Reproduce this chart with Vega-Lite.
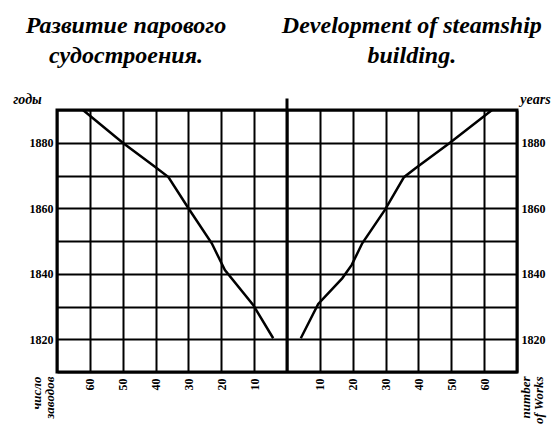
{
  "$schema": "https://vega.github.io/schema/vega-lite/v6.json",
  "autosize": "none",
  "width": 460,
  "height": 262,
  "padding": {"left": 57, "top": 110, "right": 41, "bottom": 59},
  "background": "white",
  "config": {
    "view": {"stroke": "black", "strokeWidth": 3},
    "font": "Liberation Serif",
    "axis": {"labelColor": "black", "titleColor": "black", "labelFont": "Liberation Serif", "titleFont": "Liberation Serif"}
  },
  "datasets": {
    "curve": [
      {"side": "заводы", "year": 1890, "count": -62.1},
      {"side": "заводы", "year": 1880, "count": -50},
      {"side": "заводы", "year": 1872.7, "count": -40.2},
      {"side": "заводы", "year": 1869.5, "count": -36.1},
      {"side": "заводы", "year": 1860, "count": -30},
      {"side": "заводы", "year": 1849.3, "count": -22.9},
      {"side": "заводы", "year": 1841.1, "count": -18.9},
      {"side": "заводы", "year": 1830.5, "count": -10.3},
      {"side": "заводы", "year": 1820.3, "count": -4.2},
      {"side": "works", "year": 1820.3, "count": 4.2},
      {"side": "works", "year": 1830.8, "count": 9.5},
      {"side": "works", "year": 1838.6, "count": 16.8},
      {"side": "works", "year": 1842.7, "count": 19.7},
      {"side": "works", "year": 1849.3, "count": 22.9},
      {"side": "works", "year": 1859.5, "count": 29.8},
      {"side": "works", "year": 1869.5, "count": 35.6},
      {"side": "works", "year": 1872.2, "count": 39.1},
      {"side": "works", "year": 1879.8, "count": 49.3},
      {"side": "works", "year": 1890, "count": 62.4}
    ],
    "one": [{}]
  },
  "layer": [
    {
      "data": {"name": "curve"},
      "mark": {"type": "line", "color": "black", "strokeWidth": 2.5},
      "encoding": {
        "x": {
          "field": "count", "type": "quantitative",
          "scale": {"domain": [-70, 70], "nice": false, "zero": false},
          "axis": {
            "orient": "bottom",
            "values": [-70, -60, -50, -40, -30, -20, -10, 0, 10, 20, 30, 40, 50, 60, 70],
            "labelExpr": "(datum.value == 0 || abs(datum.value) == 70) ? '' : '' + abs(datum.value)",
            "grid": true, "gridColor": "black", "gridWidth": 2, "gridOpacity": 1,
            "domain": false, "ticks": false,
            "labelAngle": 270, "labelAlign": "right", "labelBaseline": "middle",
            "labelPadding": 6, "labelFontSize": 12, "labelFontWeight": "bold",
            "title": ["число", "заводов"],
            "titleAngle": 270, "titleAlign": "right", "titleBaseline": "top",
            "titleX": -27, "titleY": 4, "titleFontSize": 13, "titleFontWeight": "bold", "titleFontStyle": "italic", "titleLineHeight": 13
          }
        },
        "y": {
          "field": "year", "type": "quantitative",
          "scale": {"domain": [1810, 1890], "nice": false, "zero": false},
          "axis": {
            "orient": "left",
            "values": [1810, 1820, 1830, 1840, 1850, 1860, 1870, 1880, 1890],
            "labelExpr": "(datum.value == 1820 || datum.value == 1840 || datum.value == 1860 || datum.value == 1880) ? '' + datum.value : ''",
            "grid": true, "gridColor": "black", "gridWidth": 2, "gridOpacity": 1,
            "domain": false, "ticks": false,
            "labelPadding": 4, "labelFontSize": 12, "labelFontWeight": "bold",
            "title": "годы",
            "titleAngle": 0, "titleAlign": "center", "titleBaseline": "bottom",
            "titleX": -30, "titleY": -4, "titleFontSize": 14, "titleFontWeight": "bold", "titleFontStyle": "italic"
          }
        },
        "detail": {"field": "side", "type": "nominal"}
      }
    },
    {
      "data": {"name": "one"},
      "mark": {"type": "rule", "color": "black", "strokeWidth": 3, "clip": false},
      "encoding": {
        "x": {
          "datum": 0, "type": "quantitative",
          "axis": {
            "orient": "top", "grid": false, "domain": false, "ticks": false, "labels": false,
            "title": ["number", "of Works"],
            "titleAngle": 270, "titleAlign": "right", "titleBaseline": "top",
            "titleX": 462, "titleY": 266, "titleFontSize": 13, "titleFontWeight": "bold", "titleFontStyle": "italic", "titleLineHeight": 13
          }
        },
        "y": {
          "datum": 1893.5, "type": "quantitative",
          "axis": {
            "orient": "right",
            "values": [1820, 1840, 1860, 1880],
            "format": "d",
            "grid": false, "domain": false, "ticks": false,
            "labelPadding": 4, "labelFontSize": 12, "labelFontWeight": "bold",
            "title": "years",
            "titleAngle": 0, "titleAlign": "center", "titleBaseline": "bottom",
            "titleX": 18, "titleY": -4, "titleFontSize": 14, "titleFontWeight": "bold", "titleFontStyle": "italic"
          }
        },
        "y2": {"datum": 1810}
      }
    },
    {
      "data": {"name": "one"},
      "mark": {"type": "text", "text": ["Развитие парового", "судостроения."], "font": "Liberation Serif", "fontStyle": "italic", "fontWeight": "bold", "fontSize": 24, "lineHeight": 30, "align": "center", "baseline": "alphabetic", "color": "black", "clip": false},
      "encoding": {
        "x": {"datum": -49, "type": "quantitative", "axis": null},
        "y": {"datum": 1913.5, "type": "quantitative", "axis": null}
      }
    },
    {
      "data": {"name": "one"},
      "mark": {"type": "text", "text": ["Development of steamship", "building."], "font": "Liberation Serif", "fontStyle": "italic", "fontWeight": "bold", "fontSize": 24, "lineHeight": 30, "align": "center", "baseline": "alphabetic", "color": "black", "clip": false},
      "encoding": {
        "x": {"datum": 38, "type": "quantitative", "axis": null},
        "y": {"datum": 1913.5, "type": "quantitative", "axis": null}
      }
    }
  ],
  "resolve": {"axis": {"x": "independent", "y": "independent"}}
}
